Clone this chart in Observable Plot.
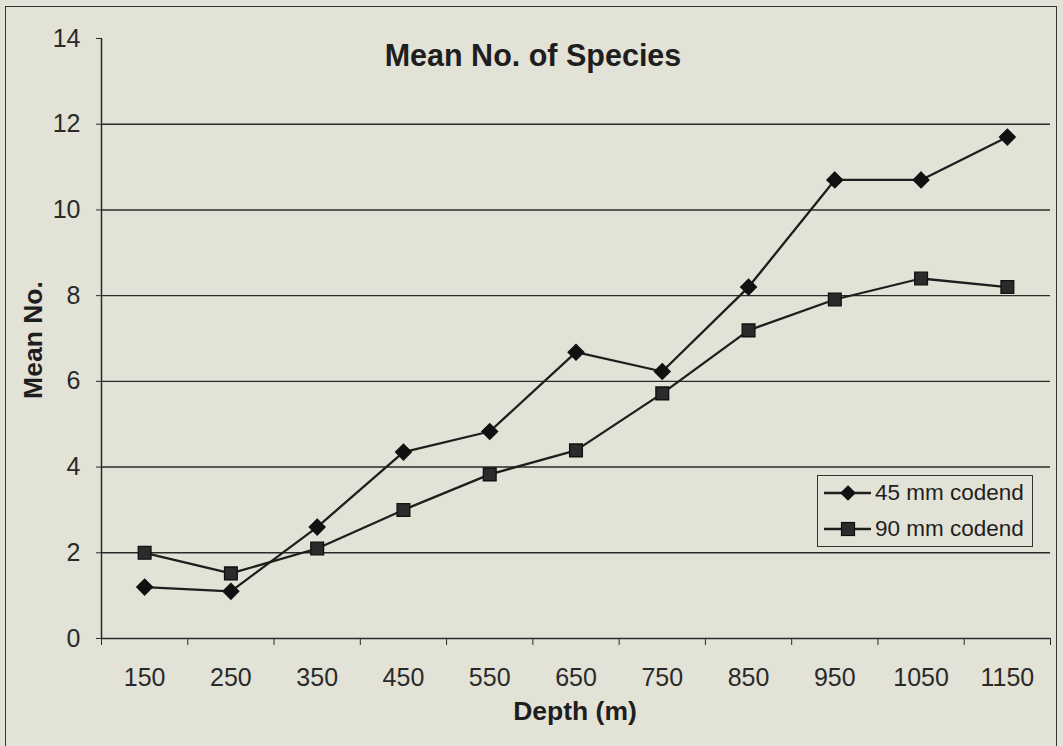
<!DOCTYPE html>
<html>
<head>
<meta charset="utf-8">
<script src="https://cdn.jsdelivr.net/npm/d3@7"></script>
<script src="https://cdn.jsdelivr.net/npm/@observablehq/plot@0.6"></script>
<style>
  html, body { margin: 0; padding: 0; background: #e3e2d7; }
  #chart { position: relative; width: 1063px; height: 746px; overflow: hidden; background: #e3e2d7;
           font-family: "Liberation Sans", Arial, sans-serif; color: #1e1e1e; }
  #frame { position: absolute; left: 5px; top: 6px; width: 1052px; height: 760px;
           border: 1.5px solid #333; box-sizing: border-box; }
  #plot { position: absolute; left: 0; top: 0; }
  .title { position: absolute; left: 0; width: 1066px; top: 40px; text-align: center;
           font-weight: bold; font-size: 30.5px; line-height: 30px; white-space: nowrap; }
  .xlabel { position: absolute; left: 0; width: 1150px; top: 698px; text-align: center;
            font-weight: bold; font-size: 26.5px; line-height: 26px; white-space: nowrap; }
  .ylabel { position: absolute; left: 33px; top: 340px; transform: translate(-50%, -50%) rotate(-90deg);
            font-weight: bold; font-size: 26.5px; line-height: 26px; white-space: nowrap; }
  #legend { position: absolute; left: 817px; top: 475px; width: 216px; height: 72px;
            border: 1.5px solid #333; box-sizing: border-box; background: #e3e2d7; }
  .lrow { position: absolute; left: 0; height: 30px; width: 214px; }
  .lrow svg { position: absolute; left: 4px; top: 0; }
  .lrow span { position: absolute; left: 57px; top: 2px; font-size: 22.5px; line-height: 24px; white-space: nowrap; }
</style>
</head>
<body>
<div id="chart">
  <div id="frame"></div>
  <div id="plot"></div>
  <div class="title">Mean No. of Species</div>
  <div class="ylabel">Mean No.</div>
  <div class="xlabel">Depth (m)</div>
  <div id="legend"></div>
</div>
<script>
// ---- data ----
const depths = [150, 250, 350, 450, 550, 650, 750, 850, 950, 1050, 1150];
const xTickLabels = ["150", "250", "350", "450", "550", "650", "750", "850", "950", "1050", "1150"];
const xTickBoundaries = [100, 200, 300, 400, 500, 600, 700, 800, 900, 1000, 1100, 1200];
const mean45 = [1.2, 1.1, 2.6, 4.35, 4.83, 6.68, 6.23, 8.2, 10.7, 10.7, 11.7];
const mean90 = [2.0, 1.52, 2.1, 3.0, 3.83, 4.39, 5.72, 7.19, 7.91, 8.4, 8.2];
const yTicks = [0, 2, 4, 6, 8, 10, 12, 14];
const gridValues = [2, 4, 6, 8, 10, 12];
const seriesNames = ["45 mm codend", "90 mm codend"];

const data45 = depths.map((d, i) => ({depth: d, value: mean45[i], series: seriesNames[0]}));
const data90 = depths.map((d, i) => ({depth: d, value: mean90[i], series: seriesNames[1]}));
const labelMap = new Map(depths.map((d, i) => [d, xTickLabels[i]]));

const ink = "#1e1e1e";

const chart = Plot.plot({
  width: 1063,
  height: 746,
  marginLeft: 101,
  marginRight: 13,
  marginTop: 38,
  marginBottom: 108,
  style: {background: "transparent", fontFamily: "Liberation Sans, Arial, sans-serif", fontSize: "25px", color: ink, overflow: "visible"},
  x: {type: "linear", domain: [100, 1200]},
  y: {domain: [0, 14]},
  marks: [
    Plot.ruleY(gridValues, {stroke: "#2a2a2a", strokeWidth: 1.4}),
    Plot.ruleY([0], {stroke: "#2a2a2a", strokeWidth: 1.5}),
    Plot.ruleX([100], {stroke: "#2a2a2a", strokeWidth: 1.5}),
    Plot.axisY(yTicks, {tickSize: 5, tickPadding: 16, label: null, fontSize: 25, stroke: "#2a2a2a", fill: "#2a2a2a"}),
    Plot.axisX(xTickBoundaries, {tickSize: 7, tickFormat: () => "", label: null, stroke: "#2a2a2a"}),
    Plot.axisX(depths, {tickSize: 0, tickPadding: 30, tickFormat: d => labelMap.get(d), label: null, fontSize: 25, fill: "#2a2a2a"}),
    Plot.line(data45, {x: "depth", y: "value", stroke: ink, strokeWidth: 2.3}),
    Plot.line(data90, {x: "depth", y: "value", stroke: ink, strokeWidth: 2.3}),
    Plot.dot(data45, {x: "depth", y: "value", symbol: "diamond2", r: 7, fill: "#111", stroke: "#111", strokeWidth: 1.5}),
    Plot.dot(data90, {x: "depth", y: "value", symbol: "square", r: 7.2, fill: "#2b2b2b", stroke: "#111", strokeWidth: 1.3})
  ]
});
document.getElementById("plot").appendChild(chart);

// ---- legend ----
const legend = document.getElementById("legend");
const symbols = ["diamond", "square"];
seriesNames.forEach((name, i) => {
  const row = document.createElement("div");
  row.className = "lrow";
  row.style.top = (i === 0 ? 3 : 39) + "px";
  const marker = symbols[i] === "diamond"
    ? '<path d="M26,7 L33,14 L26,21 L19,14 Z" fill="#111" stroke="#111" stroke-width="1.2"/>'
    : '<rect x="19.5" y="7.5" width="13" height="13" fill="#2b2b2b" stroke="#111" stroke-width="1.2"/>';
  row.innerHTML = '<svg width="52" height="28"><line x1="2" y1="14" x2="49" y2="14" stroke="' + ink + '" stroke-width="2.3"/>' + marker + '</svg><span>' + name + '</span>';
  legend.appendChild(row);
});
</script>
</body>
</html>
